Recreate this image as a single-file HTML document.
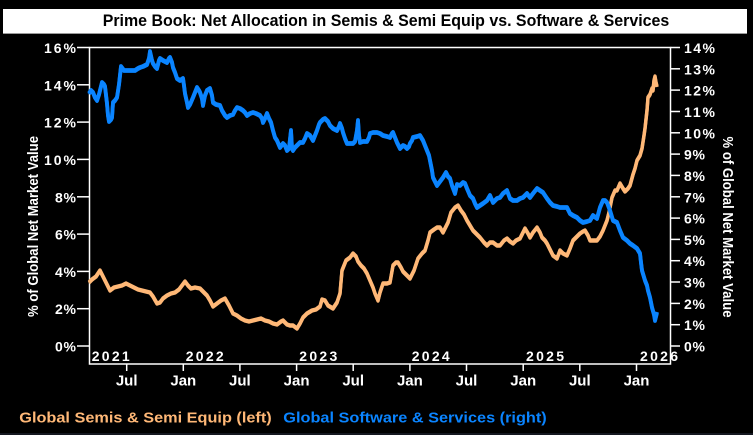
<!DOCTYPE html>
<html><head><meta charset="utf-8"><style>
html,body{margin:0;padding:0;background:#000;}
body{width:753px;height:435px;overflow:hidden;}
svg{display:block;}
text{font-family:"Liberation Sans",Arial,sans-serif;font-weight:bold;}
</style></head><body>
<svg width="753" height="435" viewBox="0 0 753 435" xmlns="http://www.w3.org/2000/svg">
<rect x="0" y="0" width="753" height="435" fill="#000"/>
<!-- title box -->
<rect x="3" y="9" width="744" height="25" fill="#fff"/>
<line x1="3" y1="33.5" x2="747" y2="33.5" stroke="#9a9a9a" stroke-width="1"/>
<text x="102.7" y="26" font-size="17" fill="#000" textLength="566.6" lengthAdjust="spacingAndGlyphs">Prime Book: Net Allocation in Semis &amp; Semi Equip vs. Software &amp; Services</text>

<!-- frame -->
<rect x="89.5" y="47.5" width="581" height="316.5" fill="none" stroke="#fff" stroke-width="1.5"/>

<!-- left ticks -->
<g stroke="#fff" stroke-width="1.5">
<line x1="77" y1="47.5" x2="89.5" y2="47.5"/>
<line x1="77" y1="84.8" x2="89.5" y2="84.8"/>
<line x1="77" y1="122.1" x2="89.5" y2="122.1"/>
<line x1="77" y1="159.4" x2="89.5" y2="159.4"/>
<line x1="77" y1="196.8" x2="89.5" y2="196.8"/>
<line x1="77" y1="234.1" x2="89.5" y2="234.1"/>
<line x1="77" y1="271.4" x2="89.5" y2="271.4"/>
<line x1="77" y1="308.7" x2="89.5" y2="308.7"/>
<line x1="77" y1="346" x2="89.5" y2="346"/>
</g>
<g fill="#fff" font-size="14" text-anchor="end">
<text x="76" y="53" textLength="32">16%</text>
<text x="76" y="90.3" textLength="32">14%</text>
<text x="76" y="127.6" textLength="32">12%</text>
<text x="76" y="164.9" textLength="32">10%</text>
<text x="76" y="202.3" textLength="21">8%</text>
<text x="76" y="239.6" textLength="21">6%</text>
<text x="76" y="276.9" textLength="21">4%</text>
<text x="76" y="314.2" textLength="21">2%</text>
<text x="76" y="351.5" textLength="21">0%</text>
</g>

<!-- right ticks -->
<g stroke="#fff" stroke-width="1.5">
<line x1="670.5" y1="47.5" x2="680" y2="47.5"/>
<line x1="670.5" y1="68.8" x2="680" y2="68.8"/>
<line x1="670.5" y1="90.1" x2="680" y2="90.1"/>
<line x1="670.5" y1="111.5" x2="680" y2="111.5"/>
<line x1="670.5" y1="132.8" x2="680" y2="132.8"/>
<line x1="670.5" y1="154.1" x2="680" y2="154.1"/>
<line x1="670.5" y1="175.4" x2="680" y2="175.4"/>
<line x1="670.5" y1="196.8" x2="680" y2="196.8"/>
<line x1="670.5" y1="218.1" x2="680" y2="218.1"/>
<line x1="670.5" y1="239.4" x2="680" y2="239.4"/>
<line x1="670.5" y1="260.7" x2="680" y2="260.7"/>
<line x1="670.5" y1="282" x2="680" y2="282"/>
<line x1="670.5" y1="303.4" x2="680" y2="303.4"/>
<line x1="670.5" y1="324.7" x2="680" y2="324.7"/>
<line x1="670.5" y1="346" x2="680" y2="346"/>
</g>
<g fill="#fff" font-size="14">
<text x="684" y="53" textLength="31">14%</text>
<text x="684" y="74.3" textLength="31">13%</text>
<text x="684" y="95.6" textLength="31">12%</text>
<text x="684" y="117" textLength="31">11%</text>
<text x="684" y="138.3" textLength="31">10%</text>
<text x="684" y="159.6" textLength="21">9%</text>
<text x="684" y="180.9" textLength="21">8%</text>
<text x="684" y="202.3" textLength="21">7%</text>
<text x="684" y="223.6" textLength="21">6%</text>
<text x="684" y="244.9" textLength="21">5%</text>
<text x="684" y="266.2" textLength="21">4%</text>
<text x="684" y="287.5" textLength="21">3%</text>
<text x="684" y="308.9" textLength="21">2%</text>
<text x="684" y="330.2" textLength="21">1%</text>
<text x="684" y="351.5" textLength="21">0%</text>
</g>

<!-- axis titles -->
<text transform="translate(38,226.5) rotate(-90)" text-anchor="middle" fill="#fff" font-size="15" textLength="181" lengthAdjust="spacingAndGlyphs">% of Global Net Market Value</text>
<text transform="translate(723,227) rotate(90)" text-anchor="middle" fill="#fff" font-size="15" textLength="181" lengthAdjust="spacingAndGlyphs">% of Global Net Market Value</text>

<!-- bottom ticks -->
<g stroke="#fff" stroke-width="1.5">
<line x1="126.7" y1="364" x2="126.7" y2="371"/>
<line x1="183.3" y1="364" x2="183.3" y2="371"/>
<line x1="239.9" y1="364" x2="239.9" y2="371"/>
<line x1="296.6" y1="364" x2="296.6" y2="371"/>
<line x1="353.2" y1="364" x2="353.2" y2="371"/>
<line x1="409.9" y1="364" x2="409.9" y2="371"/>
<line x1="466.5" y1="364" x2="466.5" y2="371"/>
<line x1="523.2" y1="364" x2="523.2" y2="371"/>
<line x1="579.8" y1="364" x2="579.8" y2="371"/>
<line x1="636.5" y1="364" x2="636.5" y2="371"/>
</g>
<g fill="#fff" font-size="15" text-anchor="middle">
<text x="126.7" y="385.5">Jul</text>
<text x="183.3" y="385.5">Jan</text>
<text x="239.9" y="385.5">Jul</text>
<text x="296.6" y="385.5">Jan</text>
<text x="353.2" y="385.5">Jul</text>
<text x="409.9" y="385.5">Jan</text>
<text x="466.5" y="385.5">Jul</text>
<text x="523.2" y="385.5">Jan</text>
<text x="579.8" y="385.5">Jul</text>
<text x="636.5" y="385.5">Jan</text>
</g>
<g fill="#fff" font-size="14">
<text x="91.7" y="361" textLength="38">2021</text>
<text x="185.7" y="361" textLength="38">2022</text>
<text x="299.3" y="361" textLength="38">2023</text>
<text x="411.7" y="361" textLength="38">2024</text>
<text x="526" y="361" textLength="38">2025</text>
<text x="640" y="361" textLength="38">2026</text>
</g>

<!-- series -->
<g id="orange" fill="none" stroke="#ffb877" stroke-linejoin="round">
<polyline stroke-width="3.4" points="89,282 92,279 96,276 100,270 103,276 106,282 110,290 114,287 118,286 122,285 126,283 130,285 134,287 138,289 142,290 146,291 150,292 153,296 157,303 160,302 163,298 167,295 171,293 175,292 179,289 182,285 185,281 188,285 191,288 195,287 200,288 204,292 207,295 210,300 213,306 217,303 221,300 225,298 229,305 233,313 237,315 241,318 245,320 249,321 253,320 257,319 261,318 265,320 269,321 273,323 277,324 281,321 283,320 287,324 290,325 293,325 297,328 300,323 303,317 307,313 312,310 316,309 320,306 322,299 325,300 328,305 333,308 337,302 340,293 342,270 346,260 350,257 353,253 356,256 358,261 361,265 364,268 367,273 370,280 373,287 375,293 378,300 380,292 383,283 387,283 390,282 393,265 396,262 398,262 401,267 403,271 407,275 410,278 414,270 418,258 422,253 425,250 428,240 430,232 434,229 437,227 440,227 443,232 445,228 448,222 451,212 455,207 458,205 461,210 464,214 467,220 470,225 473,230 477,234 480,237 484,242 487,245 490,242 493,242 497,245 500,245 504,240 507,238 510,241 513,243 516,240 520,238 523,232 525,228 528,233 530,237 533,232 537,227 540,232 542,237 545,240 547,243 550,249 553,255 557,258 560,250 563,253 567,255 570,248 573,240 577,236 580,233 583,231 585,230 588,235 590,240 594,240 597,240 600,236 603,230 605,225 607,220 609,212 610,207 612,197 615,190 617,190 620,183 623,188 625,191 628,188 630,185 633,174 635,168 637,160 640,155 642,148 644,135 645,128 647,110 648,97 650,94 652,88 653,90 654,80 655,76 656,82 657,86"/>
</g>
<use href="#orange" transform="translate(0,1)"/>
<g id="blue" fill="none" stroke="#0a84ff" stroke-linejoin="round">
<polyline stroke-width="3.8" points="89,93 91,90 93,92 95,97 97,100 99,94 100,90 102,82 104,84 105,86 107,103 108,115 109,121 111,119 112,117 113,102 115,100 117,97 119,84 121,66 124,70 127,70 131,70 135,70 138,68 140,67 143,66 147,64 149,58 150,51 152,60 153,63 155,66 157,68 159,60 160,58 163,60 167,62 169,58 170,57 172,62 173,67 175,72 177,78 180,80 183,78 184,85 185,93 187,102 188,107 190,104 193,97 195,92 197,87 199,90 200,92 202,98 203,105 205,95 207,90 210,88 212,95 213,102 216,104 220,105 222,110 225,115 227,117 230,115 233,114 235,110 237,107 240,108 243,110 245,112 247,115 250,113 253,112 256,113 260,115 262,118 263,122 265,118 267,113 269,118 271,122 273,130 275,137 277,140 280,147 283,143 285,145 287,150 289,148 291,130 292,148 293,150 295,147 297,145 300,142 303,142 305,138 307,133 310,135 313,140 315,135 317,130 319,124 320,122 323,119 325,118 328,121 330,125 333,128 337,130 339,126 340,123 342,128 343,132 345,138 347,143 350,143 353,143 355,141 357,130 358,120 359,135 360,142 363,141 367,141 369,137 370,133 373,132 377,132 380,133 383,135 387,136 390,137 392,133 393,132 395,137 397,142 400,148 403,145 405,146 407,148 409,146 410,143 412,140 413,137 417,136 420,135 423,140 425,145 427,150 429,155 430,160 432,170 433,177 435,181 437,185 440,181 443,177 446,172 448,176 450,178 452,185 455,193 457,184 460,185 463,182 465,183 467,188 470,195 473,198 475,203 477,207 480,205 483,203 487,200 490,195 493,202 497,198 500,197 503,193 507,190 510,198 513,200 517,200 520,198 523,197 527,193 530,197 533,193 537,188 540,190 543,192 545,195 547,198 550,202 553,205 557,206 560,207 563,207 567,207 570,213 573,215 577,217 580,220 583,222 587,221 590,220 593,215 597,218 600,207 603,200 605,200 607,202 610,210 613,220 617,222 620,230 623,237 627,240 630,243 633,245 637,248 640,253 641,262 642,270 645,280 647,285 648,290 650,297 652,307 654,314 655,320 656,316 657,312"/>
</g>
<use href="#blue" transform="translate(0,1)"/>

<!-- legend -->
<text x="19.3" y="422.3" font-size="15" fill="#ffb877" textLength="252.4" lengthAdjust="spacingAndGlyphs">Global Semis &amp; Semi Equip (left)</text>
<text x="283.3" y="422.3" font-size="15" fill="#0a84ff" textLength="263.4" lengthAdjust="spacingAndGlyphs">Global Software &amp; Services (right)</text>
<line x1="0" y1="434" x2="753" y2="434" stroke="#1a1f2a" stroke-width="1.5"/>
</svg>
</body></html>
